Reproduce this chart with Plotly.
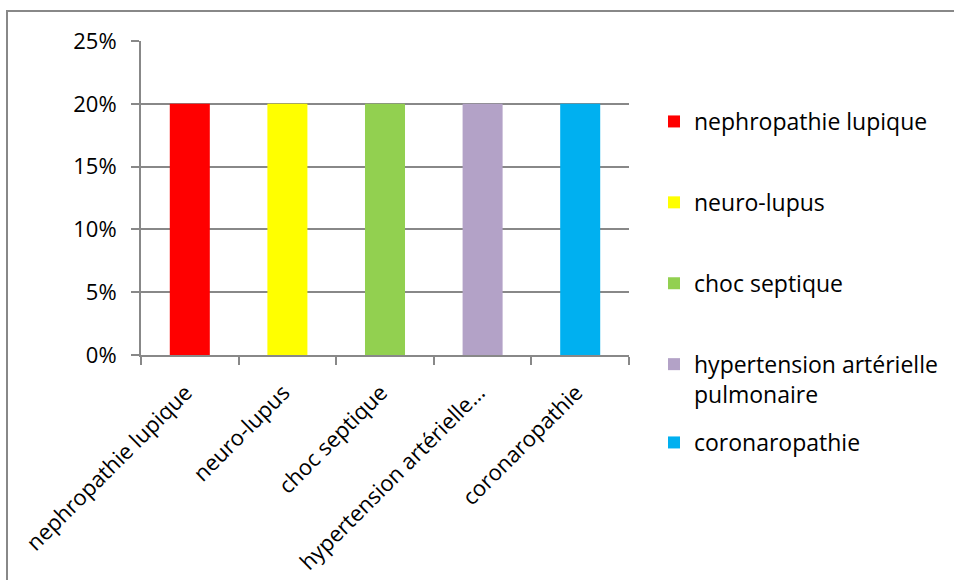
import plotly.graph_objects as go

# Diagnoses and their share of cases
categories = [
    "nephropathie lupique",
    "neuro-lupus",
    "choc septique",
    "hypertension artérielle pulmonaire",
    "coronaropathie",
]
values = [0.20, 0.20, 0.20, 0.20, 0.20]
tick_labels = [
    "nephropathie lupique",
    "neuro-lupus",
    "choc septique",
    "hypertension artérielle…",
    "coronaropathie",
]
legend_labels = [
    "nephropathie lupique",
    "neuro-lupus",
    "choc septique",
    "hypertension artérielle<br>pulmonaire",
    "coronaropathie",
]
colors = ["#FF0000", "#FFFF00", "#92D050", "#B3A2C7", "#00B0F0"]

W, H = 954, 580
ML, MR, MT, MB = 141, 325, 41, 225
FONT = "Open Sans"
GRAY = "#888888"

# the last entry sits in its own legend box, right under the two-line entry
legend_refs = ["legend", "legend", "legend", "legend", "legend2"]

fig = go.Figure()
for i, (cat, val, lab, col, lg) in enumerate(
        zip(categories, values, legend_labels, colors, legend_refs)):
    fig.add_trace(go.Bar(
        x=[cat], y=[val], name=lab, marker=dict(color=col, line=dict(width=0)),
        width=0.41, legendgroup=f"g{i}", showlegend=True, legend=lg,
    ))

plot_w = W - ML - MR
plot_h = H - MT - MB


def px_x(p):
    return (p - ML) / plot_w


def px_y(p):
    return (H - MB - p) / plot_h


legend_style = dict(
    xanchor="left", yanchor="top",
    traceorder="grouped", valign="top",
    font=dict(family=FONT, size=23, color="#000000"),
    bgcolor="rgba(0,0,0,0)", borderwidth=0,
)

fig.update_layout(
    width=W, height=H,
    margin=dict(l=ML, r=MR, t=MT, b=MB, pad=0, autoexpand=False),
    paper_bgcolor="white", plot_bgcolor="white",
    barmode="overlay",
    font=dict(family=FONT, size=22, color="#000000"),
    showlegend=True,
    legend=dict(x=px_x(654), y=px_y(100), tracegroupgap=48, maxheight=520, **legend_style),
    legend2=dict(x=px_x(654), y=px_y(421), maxheight=100, **legend_style),
    xaxis=dict(
        type="category", categoryorder="array", categoryarray=categories,
        tickvals=categories, ticktext=tick_labels, tickangle=-45,
        tickson="boundaries", ticks="outside", ticklen=8, tickcolor=GRAY, tickwidth=2,
        showline=True, linecolor=GRAY, linewidth=2, showgrid=False,
        tickfont=dict(family=FONT, size=22),
        ticklabelstandoff=14, ticklabelshift=-4,
        range=[-0.5, 4.5], fixedrange=True, automargin=False,
    ),
    yaxis=dict(
        range=[0, 0.25], dtick=0.05, tick0=0, tickformat=".0%",
        ticks="outside", ticklen=8, tickcolor=GRAY, tickwidth=2,
        showline=True, linecolor=GRAY, linewidth=2,
        showgrid=True, gridcolor=GRAY, gridwidth=2,
        zeroline=False, ticklabelstandoff=10,
        tickfont=dict(family=FONT, size=22),
        fixedrange=True, automargin=False,
    ),
    shapes=[dict(
        type="rect", xref="paper", yref="paper", layer="below",
        x0=px_x(7), x1=px_x(1100), y0=px_y(700), y1=px_y(11),
        line=dict(color=GRAY, width=2), fillcolor="rgba(0,0,0,0)",
    )],
)

fig.write_html("out.html")
